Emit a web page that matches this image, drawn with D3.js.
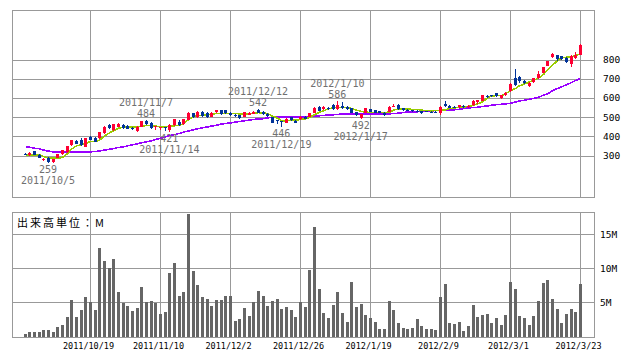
<!DOCTYPE html>
<html>
<head>
	<meta charset="utf-8">
	<title>Stock chart</title>
	<script src="https://d3js.org/d3.v7.min.js"></script>
	<style type="text/css">
		body { margin: 0; background: #fff; }
		svg { display: block; }
		.grid line { stroke: #999; stroke-width: 1; shape-rendering: crispEdges; }
		.frame { fill: none; stroke: #999; stroke-width: 1; shape-rendering: crispEdges; }
		.axis text { font-family: "DejaVu Sans Mono", monospace; fill: #000; }
		.axis path, .axis line { display: none; }
		.note { font-family: "DejaVu Sans Mono", monospace; font-size: 10px; fill: #707070; }
	</style>
</head>
<body>
<script type="text/javascript">

	// daily prices, oldest first
	var opens = [309,302,321,305,274,286,264,288,307,317,354,378,383,345,397,392,389,415,460,432,
		449,461,456,444,427,449,479,470,446,445,449,433,458,475,463,487,519,498,528,520,
		503,524,535,535,523,512,510,502,512,516,538,528,516,498,484,478,470,498,481,488,
		502,502,523,554,540,550,561,540,557,554,545,524,494,523,540,536,530,523,528,554,
		561,547,537,535,532,531,530,529,528,519,570,560,555,551,559,553,562,581,586,612,
		614,624,600,614,635,704,708,688,662,683,704,732,768,812,822,817,808,774,808,826];
	var highs = [312,316,324,307,286,290,283,309,330,352,383,382,392,392,402,395,422,452,466,466,
		468,464,459,447,452,482,484,473,453,449,451,463,492,487,492,525,523,532,532,524,
		524,538,538,538,528,515,513,527,526,531,542,531,519,501,487,481,494,501,484,505,
		505,522,553,558,558,553,566,586,580,557,548,527,517,548,543,539,533,526,557,570,
		566,550,540,538,535,534,533,532,531,556,583,563,558,565,562,563,589,591,617,616,
		617,628,617,631,676,749,712,692,681,705,739,763,794,832,826,820,812,822,838,882];
	var lows = [303,300,301,286,272,259,262,286,305,315,352,360,350,343,380,368,386,412,438,428,
		446,438,436,433,424,446,460,438,434,432,427,421,455,455,460,484,495,495,498,495,
		500,521,512,516,505,502,490,499,509,514,520,513,502,467,463,446,468,481,467,485,
		488,499,520,530,537,537,537,537,542,537,520,506,492,520,525,520,520,507,525,551,
		537,533,532,529,527,517,524,519,519,510,554,545,545,548,550,550,559,570,583,600,
		604,605,594,611,632,662,680,672,655,680,700,729,765,809,790,798,782,762,805,823];
	var closes = [306,314,303,288,284,265,281,307,328,350,380,362,354,389,383,371,420,449,441,463,
		463,441,439,436,449,479,463,441,452,448,447,460,489,460,489,522,498,529,504,498,
		521,536,514,519,509,504,493,524,523,528,523,516,505,470,482,476,491,484,470,502,
		491,519,550,533,554,540,540,561,545,540,523,509,514,545,528,523,523,510,554,558,
		540,536,535,532,530,520,527,522,522,553,557,548,548,562,557,560,586,588,614,608,
		610,612,614,628,673,669,690,680,678,702,725,760,791,829,801,801,788,819,822,878];

	// volume, millions of shares
	var volumes = [0.4,0.6,0.7,0.7,1.0,1.0,0.7,1.4,1.7,2.9,5.4,2.9,3.9,5.8,5.1,3.9,13.0,11.1,10.0,11.4,
		6.5,4.9,4.5,3.8,4.2,7.3,5.1,5.2,4.9,3.3,3.6,9.3,10.8,6.0,6.5,18.0,9.6,7.6,5.8,5.5,
		4.5,5.4,5.4,6.0,6.0,2.3,2.6,4.2,3.0,5.1,6.7,6.0,4.5,5.2,5.5,4.0,4.3,3.9,2.9,5.1,
		4.3,9.8,16.0,7.0,3.5,2.7,4.6,6.5,3.5,2.1,8.0,4.3,4.8,3.2,2.7,2.1,1.1,1.1,5.2,3.9,
		2.0,1.3,1.1,1.3,2.6,1.6,1.1,1.1,1.0,5.8,7.7,2.0,1.9,2.1,0.8,1.6,4.6,2.9,3.2,3.3,
		2.0,2.7,1.7,3.2,8.0,7.0,3.0,2.7,1.7,3.0,5.2,7.9,8.3,5.5,4.0,2.0,3.3,4.0,3.6,7.7];

	// moving averages as drawn
	var maShort = [304,304,304,304,295,286,286,286,290,310,333,350,356,362,373,373,380,401,418,428,
		442,449,449,449,449,453,456,456,453,449,449,453,455,456,467,487,501,508,510,514,
		515,519,519,519,519,519,517,517,517,519,523,521,519,505,495,481,481,484,484,488,
		491,498,512,526,533,543,549,550,550,550,545,536,530,526,524,524,524,524,526,536,
		543,543,542,540,540,536,534,533,534,536,538,544,548,551,553,555,562,569,579,600,
		610,612,612,621,638,649,663,673,683,690,704,722,746,770,794,808,812,815,819,831];
	var maLong = [343,343,338,335,328,323,319,317,317,317,317,317,317,317,319,321,324,328,333,336,
		342,345,350,356,361,366,371,376,383,390,397,404,409,415,422,428,434,439,444,449,
		453,458,464,467,470,474,477,481,484,488,490,492,496,500,502,502,502,502,502,502,
		502,502,504,507,509,510,512,514,516,516,516,516,516,516,516,516,516,516,517,519,
		520,524,526,528,528,530,531,532,534,536,536,538,538,541,544,548,550,551,555,558,
		562,565,567,569,572,579,584,588,593,597,603,614,621,638,649,657,669,680,690,701];

	// x axis labels and the bars they sit on
	var tickIndex = [14, 29, 44, 59, 74, 89, 104, 119];
	var tickLabels = ["2011/10/19","2011/11/10","2011/12/2","2011/12/26","2012/1/19","2012/2/9","2012/3/1","2012/3/23"];

	var priceTicks = [300, 400, 500, 600, 700, 800];
	var volumeTicks = [5, 10, 15];

	// highs and lows written on the chart
	var noteIndex = [5, 26, 31, 50, 55, 67, 72];
	var noteDates = ["2011/10/5","2011/11/7","2011/11/14","2011/12/12","2011/12/19","2012/1/10","2012/1/17"];
	var noteKind = ["low","high","low","high","low","high","low"];

	var W = 638, H = 362;
	var left = 12, right = 594;
	var priceTop = 10, priceBottom = 197;
	var volTop = 212, volBottom = 337;

	var svg = d3.select("body").append("svg")
		.attr("width", W)
		.attr("height", H);

	var x = d3.scaleLinear().domain([14, 119]).range([90, 580]);
	var y = d3.scaleLinear().domain([300, 800]).range([155.5, 59.5]);
	var yv = d3.scaleLinear().domain([0, 15]).range([336.5, 234]);

	function px(i){ return Math.round(x(i)); }

	// ---------- price panel ----------
	var g1 = svg.append("g").attr("class", "grid");
	g1.selectAll("line.h").data(priceTicks).enter().append("line")
		.attr("x1", left).attr("x2", right)
		.attr("y1", function(d){ return Math.round(y(d)) + 0.5; })
		.attr("y2", function(d){ return Math.round(y(d)) + 0.5; });
	g1.selectAll("line.v").data(tickIndex).enter().append("line")
		.attr("x1", function(d){ return px(d) + 0.5; })
		.attr("x2", function(d){ return px(d) + 0.5; })
		.attr("y1", priceTop).attr("y2", priceBottom);

	svg.append("rect").attr("class", "frame")
		.attr("x", left + 0.5).attr("y", priceTop + 0.5)
		.attr("width", right - left).attr("height", priceBottom - priceTop);

	// moving averages
	var line = function(arr){
		return d3.line()
			.x(function(d, i){ return px(i) + 0.5; })
			.y(function(d){ return y(d); })(arr);
	};
	svg.append("path").attr("d", line(maLong))
		.attr("fill", "none").attr("stroke", "#9900ff").attr("stroke-width", 1.6)
		.attr("shape-rendering", "crispEdges");
	svg.append("path").attr("d", line(maShort))
		.attr("fill", "none").attr("stroke", "#99cc00").attr("stroke-width", 1.6)
		.attr("shape-rendering", "crispEdges");

	// candles
	var candles = svg.append("g").attr("shape-rendering", "crispEdges");
	var idx = d3.range(opens.length);
	var col = function(i){ return closes[i] >= opens[i] ? "#ff0033" : "#003399"; };

	candles.selectAll("line").data(idx).enter().append("line")
		.attr("x1", function(i){ return px(i) + 0.5; })
		.attr("x2", function(i){ return px(i) + 0.5; })
		.attr("y1", function(i){ return y(highs[i]); })
		.attr("y2", function(i){ return y(lows[i]); })
		.attr("stroke", col);

	candles.selectAll("rect").data(idx).enter().append("rect")
		.attr("x", function(i){ return px(i) - 1; })
		.attr("width", 3)
		.attr("y", function(i){ return y(Math.max(opens[i], closes[i])); })
		.attr("height", function(i){ return Math.max(1, Math.abs(y(opens[i]) - y(closes[i]))); })
		.attr("fill", col);

	// price labels on the right
	svg.append("g").attr("class", "axis")
		.attr("transform", "translate(" + right + ",0)")
		.call(d3.axisRight(y).tickValues(priceTicks).tickSize(0).tickPadding(9))
		.selectAll("text").style("font-size", "9.5px");

	// high / low notes
	var notes = svg.append("g");
	noteIndex.forEach(function(i, k){
		var isHigh = noteKind[k] === "high";
		var v = isHigh ? highs[i] : lows[i];
		var base = y(v);
		var sgn = isHigh ? -1 : 1;
		notes.append("text").attr("class", "note")
			.attr("x", x(i)).attr("y", base + sgn * 6.5)
			.attr("text-anchor", "middle").attr("dominant-baseline", "central")
			.text(v);
		notes.append("text").attr("class", "note")
			.attr("x", x(i)).attr("y", base + sgn * 17.5)
			.attr("text-anchor", "middle").attr("dominant-baseline", "central")
			.text(noteDates[k]);
	});

	// ---------- volume panel ----------
	var g2 = svg.append("g").attr("class", "grid");
	g2.selectAll("line.h").data(volumeTicks).enter().append("line")
		.attr("x1", left).attr("x2", right)
		.attr("y1", function(d){ return Math.round(yv(d)) + 0.5; })
		.attr("y2", function(d){ return Math.round(yv(d)) + 0.5; });
	g2.selectAll("line.v").data(tickIndex).enter().append("line")
		.attr("x1", function(d){ return px(d) + 0.5; })
		.attr("x2", function(d){ return px(d) + 0.5; })
		.attr("y1", volTop).attr("y2", volBottom);

	svg.append("rect").attr("class", "frame")
		.attr("x", left + 0.5).attr("y", volTop + 0.5)
		.attr("width", right - left).attr("height", volBottom - volTop);

	svg.append("g").attr("shape-rendering", "crispEdges")
		.selectAll("rect").data(volumes).enter().append("rect")
		.attr("x", function(d, i){ return px(i) - 1; })
		.attr("width", 3)
		.attr("y", function(d){ return yv(d); })
		.attr("height", function(d){ return yv(0) - yv(d); })
		.attr("fill", "#666");

	svg.append("text")
		.attr("x", 17).attr("y", 222)
		.attr("dominant-baseline", "central")
		.style("font-family", "'Noto Sans CJK JP', sans-serif")
		.style("font-size", "11px")
		.style("fill", "#000")
		.style("letter-spacing", "2px")
		.text("出来高単位：M");

	svg.append("g").attr("class", "axis")
		.attr("transform", "translate(" + right + ",0)")
		.call(d3.axisRight(yv).tickValues(volumeTicks).tickSize(0).tickPadding(6)
			.tickFormat(function(d){ return d + "M"; }))
		.selectAll("text").style("font-size", "9.5px");

	// date labels
	svg.append("g").attr("class", "axis")
		.attr("transform", "translate(-2," + volBottom + ")")
		.call(d3.axisBottom(x).tickValues(tickIndex).tickSize(0).tickPadding(6)
			.tickFormat(function(d, i){ return tickLabels[i]; }))
		.selectAll("text").style("font-size", "8.5px");

</script>
</body>
</html>
